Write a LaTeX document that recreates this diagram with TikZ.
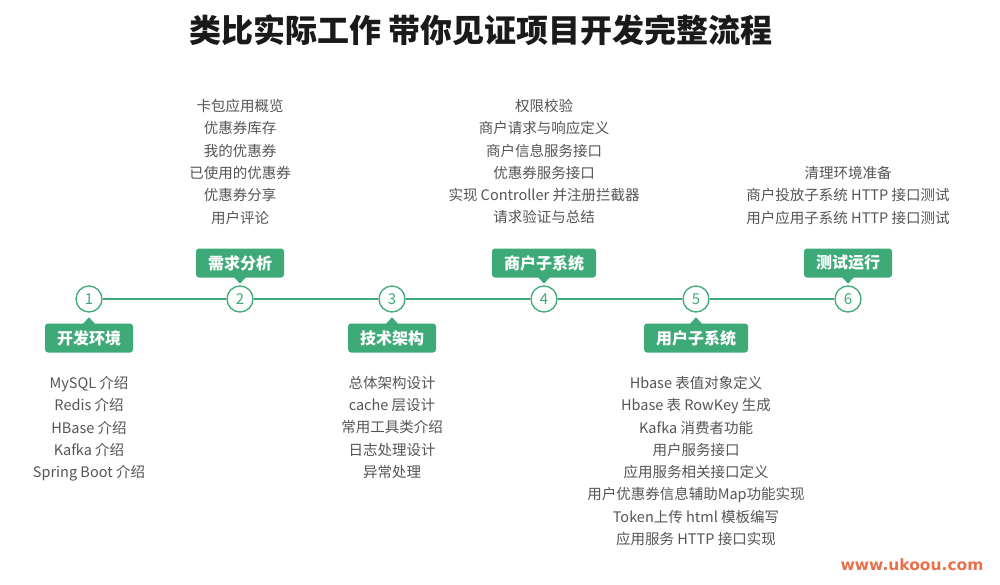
\documentclass[tikz,border=0pt]{standalone}
\usepackage{fontspec}
\setmainfont{Noto Sans CJK SC}
\newfontfamily\cjk{Noto Sans CJK SC}
\newfontfamily\wmfont{DejaVu Sans}
\usetikzlibrary{calc}
\definecolor{grn}{HTML}{3DAA78}
\definecolor{txt}{HTML}{555555}
\definecolor{ttl}{HTML}{1A1A1A}
\definecolor{wm}{HTML}{E8704A}
\tikzset{
  circ/.style={circle, draw=grn, line width=1.3pt, fill=white, minimum size=26pt, inner sep=0pt, text=grn, font=\cjk\fontsize{15}{15}\selectfont},
  tag/.style={fill=grn, rounded corners=3pt, text=white, font=\cjk\bfseries\fontsize{16}{16}\selectfont, minimum height=29pt, inner xsep=12pt},
  lst/.style={align=center, text=txt, font=\cjk\fontsize{14.5}{22.3}\selectfont, inner sep=0pt},
  link/.style={draw=grn, line width=1.3pt}
}
\begin{document}
\begin{tikzpicture}[x=1pt,y=-1pt]
\useasboundingbox[fill=white] (0,0) rectangle (1000,584);
\node[font=\cjk\bfseries\fontsize{32}{32}\selectfont, text=ttl] (title) at (481,30) {类比实际工作 带你见证项目开发完整流程};

\foreach \i/\x in {1/89,2/240,3/392,4/544,5/696,6/848}{
  \node[circ] (c\i) at (\x,299) {\i};
}
\draw[link] (c1) -- (c2);
\draw[link] (c2) -- (c3);
\draw[link] (c3) -- (c4);
\draw[link] (c4) -- (c5);
\draw[link] (c5) -- (c6);

% tags below
\node[tag] (t1) at (89,338) {开发环境};
\node[tag] (t3) at (392,338) {技术架构};
\node[tag] (t5) at (696,338) {用户子系统};
% tags above
\node[tag] (t2) at (240,263) {需求分析};
\node[tag] (t4) at (544,263) {商户子系统};
\node[tag] (t6) at (848,263) {测试运行};

\foreach \t in {t1,t3,t5}{
  \fill[grn] ($(\t.north)+(-6,0.5)$) -- ($(\t.north)+(0,-6)$) -- ($(\t.north)+(6,0.5)$) -- cycle;
}
\foreach \t in {t2,t4,t6}{
  \fill[grn] ($(\t.south)+(-6,-0.5)$) -- ($(\t.south)+(0,6)$) -- ($(\t.south)+(6,-0.5)$) -- cycle;
}

% lists above
\node[lst, anchor=north] (l2) at (240,99) {卡包应用概览\\优惠券库存\\我的优惠券\\已使用的优惠券\\优惠券分享\\用户评论};
\node[lst, anchor=north] (l4) at (544,99) {权限校验\\商户请求与响应定义\\商户信息服务接口\\优惠券服务接口\\实现 Controller 并注册拦截器\\请求验证与总结};
\node[lst, anchor=north] (l6) at (848,166) {清理环境准备\\商户投放子系统 HTTP 接口测试\\用户应用子系统 HTTP 接口测试};
% lists below
\node[lst, anchor=north] (l1) at (89,376) {MySQL 介绍\\Redis 介绍\\HBase 介绍\\Kafka 介绍\\Spring Boot 介绍};
\node[lst, anchor=north] (l3) at (392,376) {总体架构设计\\cache 层设计\\常用工具类介绍\\日志处理设计\\异常处理};
\node[lst, anchor=north] (l5) at (696,376) {Hbase 表值对象定义\\Hbase 表 RowKey 生成\\Kafka 消费者功能\\用户服务接口\\应用服务相关接口定义\\用户优惠券信息辅助Map功能实现\\Token上传 html 模板编写\\应用服务 HTTP 接口实现};

\node[font=\wmfont\bfseries\fontsize{15.5}{15.5}\selectfont, text=wm] (wm) at (912,565) {www.ukoou.com};
\end{tikzpicture}
\end{document}
